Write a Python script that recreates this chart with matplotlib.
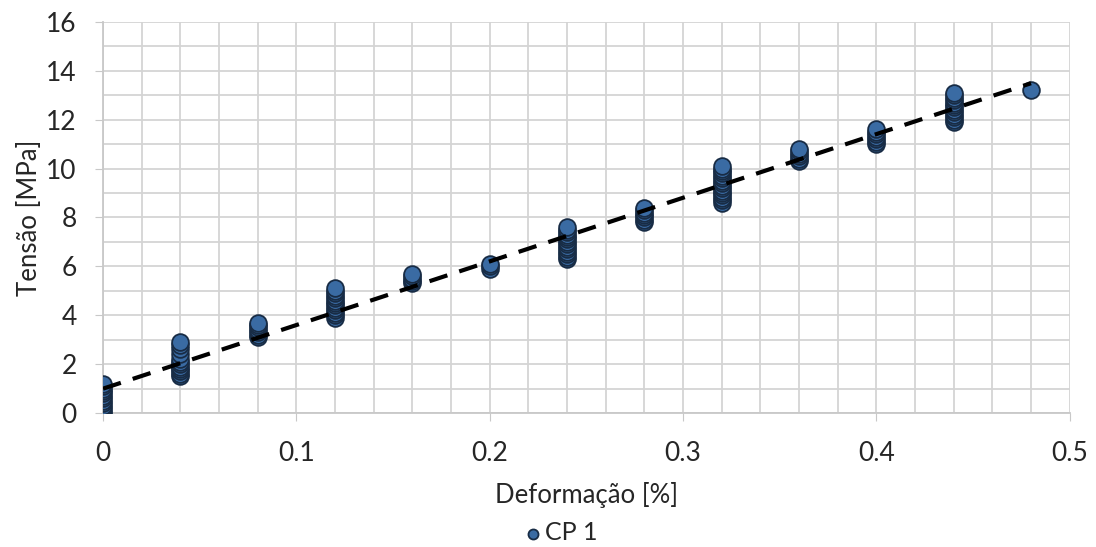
import numpy as np
import matplotlib.pyplot as plt
from matplotlib.ticker import MultipleLocator, FormatStrFormatter

plt.rcParams['font.family'] = ['Lato', 'DejaVu Sans']

# dados (CP 1)
deformacao = [0.00, 0.04, 0.08, 0.12, 0.16, 0.20, 0.24, 0.28, 0.32, 0.36, 0.40, 0.44, 0.48]
tensao = [
    [0.0, 0.1, 0.2, 0.3, 0.4, 0.5, 0.6, 0.7, 0.8, 0.9, 1.0, 1.1, 1.2],
    [1.5, 1.6, 1.7, 1.8, 1.9, 2.0, 2.1, 2.2, 2.4, 2.6, 2.8, 2.9],
    [3.1, 3.2, 3.3, 3.4, 3.5, 3.6, 3.7],
    [3.9, 4.0, 4.1, 4.2, 4.3, 4.4, 4.5, 4.6, 4.7, 4.8, 4.9, 5.0, 5.1],
    [5.3, 5.4, 5.5, 5.6, 5.7],
    [5.9, 6.0, 6.1],
    [6.3, 6.4, 6.5, 6.6, 6.7, 6.8, 6.9, 7.0, 7.1, 7.2, 7.3, 7.4, 7.5, 7.6],
    [7.8, 7.9, 8.0, 8.1, 8.2, 8.3, 8.4],
    [8.6, 8.7, 8.8, 8.9, 9.0, 9.1, 9.2, 9.3, 9.4, 9.5, 9.6, 9.7, 9.8, 9.9, 10.0, 10.1],
    [10.3, 10.4, 10.5, 10.6, 10.7, 10.8],
    [11.0, 11.1, 11.2, 11.3, 11.4, 11.5, 11.6],
    [11.9, 12.0, 12.1, 12.2, 12.3, 12.4, 12.5, 12.6, 12.7, 12.8, 12.9, 13.0, 13.1],
    [13.2],
]

x = np.concatenate([[d] * len(t) for d, t in zip(deformacao, tensao)])
y = np.concatenate(tensao)

# linha de tendência linear (como no Excel)
a, b = np.polyfit(x, y, 1)
xt = np.array([0, max(deformacao)])

fig = plt.figure(figsize=(10.96, 5.47), dpi=100)
ax = fig.add_axes([0.094, 0.245, 0.882, 0.715])

ax.scatter(x, y, s=145, color='#3a6ba3', edgecolors='#182c45', linewidths=1.3,
           zorder=3, label='CP 1')
ax.plot(xt, a * xt + b, color='black', lw=3, ls=(0, (4.5, 3)), zorder=4)

ax.set_xlim(0, 0.5)
ax.set_ylim(0, 16)
ax.xaxis.set_major_locator(MultipleLocator(0.1))
ax.xaxis.set_minor_locator(MultipleLocator(0.02))
ax.yaxis.set_major_locator(MultipleLocator(2))
ax.yaxis.set_minor_locator(MultipleLocator(1))
ax.xaxis.set_major_formatter(FormatStrFormatter('%g'))
ax.grid(which='both', color='#d4d4d4', lw=1.3, zorder=0)
ax.set_axisbelow(True)
for s in ['top', 'right']:
    ax.spines[s].set_visible(False)
for s in ['left', 'bottom']:
    ax.spines[s].set_color('#c8c8c8')
    ax.spines[s].set_linewidth(1.3)
ax.tick_params(which='major', length=6, color='#c8c8c8', labelsize=19, labelcolor='#262626')
ax.tick_params(which='minor', length=0)
ax.tick_params(axis='x', pad=14)
ax.tick_params(axis='y', pad=13)

ax.set_xlabel('Deformação [%]', fontsize=18.5, color='#262626', labelpad=12)
ax.set_ylabel('Tensão [MPa]', fontsize=18.5, color='#262626', labelpad=3)

fig.legend(loc='lower center', bbox_to_anchor=(0.51, 0.0), frameon=False, fontsize=18,
           markerscale=0.6, handletextpad=0.0, handlelength=1.0, borderpad=0.1,
           borderaxespad=0, labelcolor='#262626')

fig.savefig('out.png', dpi=100)
